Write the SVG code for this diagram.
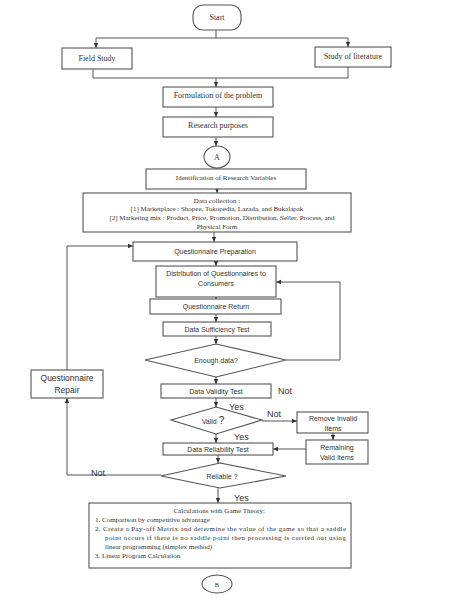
<svg xmlns="http://www.w3.org/2000/svg" width="474" height="600" viewBox="0 0 474 600">
<defs>
<marker id="ar" markerWidth="6" markerHeight="6" refX="5" refY="3" orient="auto" markerUnits="userSpaceOnUse">
<path d="M0,0.8 L5,3 L0,5.2 Z" fill="#333"/>
</marker>
<style>
.b{fill:#fff;stroke:#555;stroke-width:1.1}
.c{fill:none;stroke:#555;stroke-width:1}
.s{font-family:"Liberation Serif",serif;fill:#333}
.n{font-family:"Liberation Sans",Arial,sans-serif;fill:#333}
</style>
</defs>
<rect width="474" height="600" fill="#fff"/>
<g id="connectors" class="c">
<path d="M216,30 V38"/>
<path d="M96,38 H348"/>
<path d="M96,38 V48" marker-end="url(#ar)"/>
<path d="M348,38 V47" marker-end="url(#ar)"/>
<path d="M93,69 V78 H348 V67"/>
<path d="M216,78 V87" marker-end="url(#ar)"/>
<path d="M216,107 V117" marker-end="url(#ar)"/>
<path d="M216,137 V146" marker-end="url(#ar)"/>
<path d="M217,168 V169"/>
<path d="M217,189 V193" marker-end="url(#ar)"/>
<path d="M214,232 V242" marker-end="url(#ar)"/>
<path d="M216,261 V266" marker-end="url(#ar)"/>
<path d="M216,290 V299" marker-end="url(#ar)"/>
<path d="M216,314 V322" marker-end="url(#ar)"/>
<path d="M216,336 V344" marker-end="url(#ar)"/>
<path d="M216,377 V384" marker-end="url(#ar)"/>
<path d="M216,398 V407" marker-end="url(#ar)"/>
<path d="M216,434 V443" marker-end="url(#ar)"/>
<path d="M218,455 V463" marker-end="url(#ar)"/>
<path d="M218,488 V503" marker-end="url(#ar)"/>
<path d="M286,360 H340 V282 H276" marker-end="url(#ar)"/>
<path d="M67,370 V246 H133" marker-end="url(#ar)"/>
<path d="M161,475 H67 V398" marker-end="url(#ar)"/>
<path d="M262,421 H297" marker-end="url(#ar)"/>
<path d="M333,433 V440" marker-end="url(#ar)"/>
<path d="M306,449 H273" marker-end="url(#ar)"/>
<path d="M217,561 V568" marker-end="url(#ar)"/>
</g>
<g id="start"><rect class="b" x="193" y="5" width="48" height="25" rx="10"/><text class="s" x="217" y="20" font-size="8" text-anchor="middle">Start</text></g>
<g id="field"><rect class="b" x="62" y="48" width="70" height="21"/><text class="s" x="97" y="61" font-size="8" text-anchor="middle">Field Study</text></g>
<g id="lit"><rect class="b" x="315" y="47" width="76" height="20"/><text class="s" x="353" y="59" font-size="8" text-anchor="middle">Study of literature</text></g>
<g id="formulation"><rect class="b" x="163" y="87" width="110" height="20"/><text class="s" x="218" y="98" font-size="8" text-anchor="middle">Formulation of the problem</text></g>
<g id="purposes"><rect class="b" x="163" y="117" width="110" height="20"/><text class="s" x="218" y="128" font-size="8" text-anchor="middle">Research purposes</text></g>
<g id="A"><ellipse class="b" cx="217" cy="157" rx="13" ry="11"/><text class="s" x="217" y="160" font-size="8" text-anchor="middle">A</text></g>
<g id="ident"><rect class="b" x="146" y="169" width="160" height="20"/><text class="s" x="226" y="180" font-size="7" text-anchor="middle">Identification of Research Variables</text></g>
<g id="datacol"><rect class="b" x="83" y="193" width="268" height="39"/>
<text class="s" font-size="7" text-anchor="middle"><tspan x="217" y="203">Data collection :</tspan><tspan x="217" y="211">[1] Marketplace : Shopee, Tokopedia, Lazada, and Bukalapak</tspan><tspan x="222" y="220">[2] Marketing mix : Product, Price, Promotion, Distribution, Seller, Process, and</tspan><tspan x="217" y="229">Physical Form</tspan></text></g>
<g id="qprep"><rect class="b" x="133" y="242" width="164" height="19"/><text class="n" x="215" y="254" font-size="7" text-anchor="middle">Questionnaire Preparation</text></g>
<g id="dist"><rect class="b" x="156" y="266" width="120" height="31"/><text class="n" font-size="7" text-anchor="middle"><tspan x="216" y="276">Distribution of Questionnaires to</tspan><tspan x="216" y="286">Consumers</tspan></text></g>
<g id="qret"><rect class="b" x="150" y="299" width="131" height="15"/><text class="n" x="216" y="309" font-size="7" text-anchor="middle">Questionnaire Return</text></g>
<g id="suff"><rect class="b" x="163" y="322" width="108" height="14"/><text class="n" x="217" y="331.5" font-size="7" text-anchor="middle">Data Sufficiency Test</text></g>
<g id="enough"><polygon class="b" points="216,344 286,360 216,377 145,360"/><text class="n" x="216" y="363" font-size="7" text-anchor="middle">Enough data?</text></g>
<g id="validity"><rect class="b" x="161" y="384" width="110" height="14"/><text class="n" x="216" y="394" font-size="7" text-anchor="middle">Data Validity Test</text></g>
<g id="valid"><polygon class="b" points="216,407 262,420 216,434 171,420"/><text class="n" x="213" y="424" font-size="7" text-anchor="middle">Valid <tspan font-size="10">?</tspan></text></g>
<g id="remove"><rect class="b" x="297" y="412" width="71" height="21"/><text class="n" font-size="7" text-anchor="middle"><tspan x="333" y="421">Remove Invalid</tspan><tspan x="333" y="431">Items</tspan></text></g>
<g id="remaining"><rect class="b" x="306" y="440" width="62" height="24"/><text class="n" font-size="7" text-anchor="middle"><tspan x="337" y="450">Remaining</tspan><tspan x="337" y="460">Valid Items</tspan></text></g>
<g id="reliability"><rect class="b" x="163" y="443" width="110" height="12"/><text class="n" x="218" y="452" font-size="7" text-anchor="middle">Data Reliability Test</text></g>
<g id="reliable"><polygon class="b" points="220,463 286,476 220,488 161,476"/><text class="n" x="222" y="479" font-size="7" text-anchor="middle">Reliable ?</text></g>
<g id="repair"><rect class="b" x="31" y="370" width="72" height="28"/><text class="n" font-size="8.5" text-anchor="middle"><tspan x="67" y="381">Questionnaire</tspan><tspan x="67" y="393">Repair</tspan></text></g>
<g id="labels" class="n" font-size="9">
<text x="278" y="394">Not</text>
<text x="229" y="410">Yes</text>
<text x="267" y="417">Not</text>
<text x="234" y="440">Yes</text>
<text x="91" y="476">Not</text>
<text x="234" y="501">Yes</text>
</g>
<g id="calc"><rect class="b" x="89" y="503" width="262" height="65"/>
<text class="s" font-size="7"><tspan x="220" y="513" text-anchor="middle">Calculations with Game Theory:</tspan>
<tspan x="95" y="522">1. Comparison by competitive advantage</tspan>
<tspan x="95" y="531" textLength="251" lengthAdjust="spacing">2. Create a Pay-off Matrix and determine the value of the game so that a saddle</tspan>
<tspan x="105" y="540" textLength="241" lengthAdjust="spacing">point occurs if there is no saddle point then processing is carried out using</tspan>
<tspan x="105" y="549">linear programming (simplex method)</tspan>
<tspan x="95" y="558">3. Linear Program Calculation</tspan></text></g>
<g id="B"><ellipse class="b" cx="217" cy="584" rx="15" ry="9"/><text class="s" x="217" y="587" font-size="6.5" text-anchor="middle">B</text></g>
</svg>
